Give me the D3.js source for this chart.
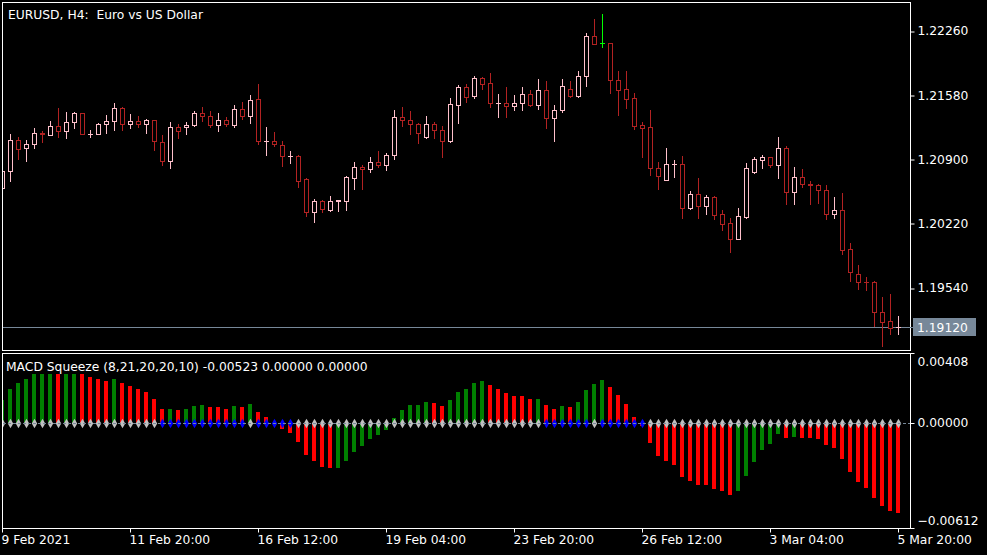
<!DOCTYPE html>
<html lang="en">
<head>
    <meta charset="UTF-8">
    <title>EURUSD, H4</title>
    <script src="https://d3js.org/d3.v7.min.js"></script>
    <style>
        body { margin: 0; background: #000; }
        svg text { font-family: "DejaVu Sans", sans-serif; font-size: 12.3px; fill: #fff; white-space: pre; }
    </style>
</head>
<body>
<div id="chart"></div>
<script>
    // candles, 113 bars of H4
    const opens = [1.20599,1.20779,1.21101,1.21023,1.21059,1.21176,1.21161,1.21250,1.21197,1.21292,
        1.21388,1.21171,1.21171,1.21271,1.21303,1.21441,1.21277,1.21303,1.21271,1.21313,
        1.21080,1.20879,1.21239,1.21239,1.21267,1.21388,1.21356,1.21267,1.21313,1.21267,
        1.21430,1.21362,1.21536,1.21091,1.21091,1.21048,1.20932,1.20932,1.20688,1.20338,
        1.20455,1.20359,1.20455,1.20455,1.20703,1.20816,1.20792,1.20875,1.20839,1.20942,
        1.21345,1.21313,1.21271,1.21133,1.21271,1.21207,1.21091,1.21472,1.21666,1.21568,
        1.21762,1.21706,1.21494,1.21494,1.21462,1.21494,1.21589,1.21479,1.21631,1.21335,
        1.21419,1.21645,1.21571,1.21780,1.22204,1.22130,1.22130,1.21737,1.21642,1.21547,
        1.21260,1.21239,1.20805,1.20684,1.20847,1.20847,1.20387,1.20529,1.20408,1.20500,
        1.20317,1.20222,1.20058,1.20292,1.20766,1.20896,1.20921,1.20843,1.21017,1.20550,
        1.20709,1.20635,1.20624,1.20571,1.20323,1.20359,1.19946,1.19681,1.19603,1.19596,
        1.19278,1.19183,1.19120];
    const highs = [1.20808,1.21168,1.21136,1.21101,1.21232,1.21200,1.21303,1.21444,1.21401,1.21401,
        1.21392,1.21207,1.21282,1.21366,1.21497,1.21454,1.21377,1.21359,1.21330,1.21318,
        1.21154,1.21295,1.21271,1.21295,1.21409,1.21451,1.21409,1.21388,1.21345,1.21472,
        1.21504,1.21578,1.21698,1.21239,1.21186,1.21094,1.20988,1.20949,1.20699,1.20476,
        1.20469,1.20511,1.20466,1.20724,1.20869,1.20837,1.20922,1.20988,1.20967,1.21423,
        1.21454,1.21412,1.21282,1.21359,1.21292,1.21253,1.21550,1.21688,1.21698,1.21783,
        1.21772,1.21815,1.21592,1.21666,1.21582,1.21666,1.21635,1.21751,1.21730,1.21476,
        1.21751,1.21730,1.21836,1.22236,1.22387,1.22440,1.22133,1.21836,1.21836,1.21603,
        1.21295,1.21423,1.20869,1.21020,1.20893,1.20935,1.20564,1.20702,1.20522,1.20511,
        1.20363,1.20278,1.20384,1.20861,1.20922,1.20942,1.20925,1.21136,1.21041,1.20818,
        1.20797,1.20667,1.20640,1.20628,1.20500,1.20543,1.20013,1.19780,1.19652,1.19605,
        1.19440,1.19472,1.19239];
    const lows = [1.20596,1.20670,1.20906,1.20885,1.21023,1.21087,1.21155,1.21136,1.21129,1.21235,
        1.21165,1.21136,1.21165,1.21182,1.21214,1.21214,1.21235,1.21246,1.21182,1.21002,
        1.20843,1.20811,1.21129,1.21171,1.21256,1.21309,1.21246,1.21203,1.21256,1.21246,
        1.21330,1.21288,1.21065,1.20949,1.21038,1.20832,1.20864,1.20603,1.20302,1.20239,
        1.20345,1.20355,1.20355,1.20366,1.20586,1.20586,1.20766,1.20819,1.20788,1.20906,
        1.21256,1.21171,1.21076,1.21128,1.21129,1.20921,1.21080,1.21288,1.21511,1.21547,
        1.21648,1.21451,1.21352,1.21352,1.21419,1.21426,1.21462,1.21436,1.21235,1.21097,
        1.21398,1.21560,1.21565,1.21680,1.22118,1.22094,1.21606,1.21373,1.21447,1.21224,
        1.20928,1.20734,1.20586,1.20680,1.20710,1.20281,1.20376,1.20281,1.20323,1.20270,
        1.20154,1.19921,1.20052,1.20281,1.20753,1.20811,1.20822,1.20703,1.20429,1.20429,
        1.20606,1.20429,1.20440,1.20270,1.20281,1.19899,1.19613,1.19528,1.19518,1.19136,
        1.18924,1.19051,1.19051];
    const closes = [1.20779,1.21101,1.21012,1.21059,1.21176,1.21165,1.21250,1.21197,1.21292,1.21388,
        1.21171,1.21171,1.21271,1.21303,1.21441,1.21271,1.21303,1.21277,1.21313,1.21091,
        1.20879,1.21239,1.21197,1.21267,1.21388,1.21356,1.21267,1.21313,1.21277,1.21430,
        1.21362,1.21529,1.21091,1.21091,1.21059,1.20932,1.20932,1.20673,1.20338,1.20455,
        1.20376,1.20455,1.20465,1.20710,1.20816,1.20792,1.20875,1.20839,1.20946,1.21345,
        1.21313,1.21271,1.21176,1.21271,1.21207,1.21091,1.21483,1.21666,1.21557,1.21762,
        1.21701,1.21494,1.21494,1.21462,1.21494,1.21589,1.21479,1.21631,1.21335,1.21419,
        1.21677,1.21571,1.21783,1.22204,1.22122,1.22130,1.21744,1.21638,1.21542,1.21256,
        1.21235,1.20805,1.20726,1.20847,1.20847,1.20387,1.20529,1.20408,1.20500,1.20313,
        1.20217,1.20058,1.20296,1.20805,1.20900,1.20921,1.20843,1.21017,1.20550,1.20709,
        1.20635,1.20631,1.20571,1.20323,1.20359,1.19942,1.19702,1.19603,1.19600,1.19285,
        1.19179,1.19115,1.19120];
    const markedBar = 75;
    const bidPrice = 1.19120;

    // MACD Squeeze histogram
    const histValues = [0.00132,0.00198,0.00233,0.00256,0.00284,0.00284,0.00285,0.00284,0.00285,0.00286,
        0.00285,0.00268,0.00256,0.00245,0.00256,0.00233,0.00214,0.00198,0.00179,0.00140,
        0.00082,0.00083,0.00074,0.00082,0.00097,0.00105,0.00093,0.00092,0.00082,0.00097,
        0.00093,0.00113,0.00062,0.00035,-0.00003,-0.00035,-0.00058,-0.00113,-0.00187,-0.00223,
        -0.00256,-0.00264,-0.00263,-0.00223,-0.00169,-0.00134,-0.00093,-0.00070,-0.00041,0.00027,
        0.00074,0.00105,0.00106,0.00120,0.00115,0.00097,0.00132,0.00179,0.00198,0.00231,
        0.00245,0.00222,0.00198,0.00175,0.00156,0.00155,0.00140,0.00141,0.00105,0.00082,
        0.00097,0.00096,0.00120,0.00192,0.00226,0.00249,0.00210,0.00161,0.00109,0.00033,
        -0.00019,-0.00118,-0.00194,-0.00223,-0.00247,-0.00317,-0.00340,-0.00363,-0.00364,-0.00383,
        -0.00398,-0.00422,-0.00398,-0.00311,-0.00229,-0.00159,-0.00124,-0.00066,-0.00089,-0.00083,
        -0.00089,-0.00090,-0.00095,-0.00130,-0.00148,-0.00212,-0.00287,-0.00346,-0.00381,-0.00439,
        -0.00486,-0.00515,-0.00523];
    // 1 = green bar, 0 = red bar
    const histUp = [1,1,1,1,1,1,1,0,1,1, 0,0,0,0,1,0,0,0,0,0, 0,1,0,1,1,1,0,0,0,1,
        0,1,0,0,0,0,0,0,0,0, 0,0,1,1,1,1,1,1,1,1, 1,1,1,1,0,0,1,1,1,1,
        1,0,0,0,0,0,0,1,0,0, 1,0,1,1,1,1,0,0,0,0, 0,0,0,0,0,0,0,0,0,0,
        0,0,1,1,1,1,1,1,0,1, 0,0,0,0,0,0,0,0,0,0, 0,0,0];
    // 1 = squeeze on (blue dot), 0 = off (grey dot)
    const squeeze = [0,0,0,0,0,0,0,0,0,0, 0,0,0,0,0,0,0,0,0,0, 1,1,1,1,1,1,1,1,1,1,
        1,0,1,1,1,1,1,0,0,0, 0,0,0,0,0,0,0,0,0,0, 0,0,0,0,0,0,0,0,0,0,
        0,0,0,0,0,0,0,0,1,1, 1,1,1,1,0,1,1,1,1,1, 1,0,0,0,0,0,0,0,0,0,
        0,0,0,0,0,0,0,0,0,0, 0,0,0,0,0,0,0,0,0,0, 0,0,0];
    const macdLabel = "MACD Squeeze (8,21,20,20,10) -0.00523 0.00000 0.00000";

    // axes
    const priceTicks = [1.22260, 1.21580, 1.20900, 1.20220, 1.19540];
    const subTicks = [0.00408, 0.00000, -0.00612];
    const timeTickBars = [0, 16, 32, 48, 64, 80, 96, 112];
    const timeTickLabels = ["9 Feb 2021", "11 Feb 20:00", "16 Feb 12:00", "19 Feb 04:00",
        "23 Feb 20:00", "26 Feb 12:00", "3 Mar 04:00", "5 Mar 20:00"];

    const width = 987, height = 555;
    const left = 2, right = 910;
    const mainTop = 2, mainBottom = 350;
    const subTop = 353, subBottom = 528;

    const bullColor = "#ffc0cb", bearColor = "#b22222", markColor = "#00ff00";
    const gridGrey = "#778899";

    const svg = d3.select("#chart").append("svg")
        .attr("width", width).attr("height", height)
        .style("display", "block").style("background", "#000");

    const x = d3.scaleLinear().domain([0, 112]).range([2, 898]);
    const y = d3.scaleLinear().domain([1.22260, 1.19540]).range([31, 287.6]);
    const ys = d3.scaleLinear().domain([0.00408, -0.00612]).range([subTop, subBottom]);
    const px = v => Math.round(v) + 0.5;

    svg.append("clipPath").attr("id", "clipMain").append("rect")
        .attr("x", left + 1).attr("y", mainTop + 1)
        .attr("width", right - left - 1).attr("height", mainBottom - mainTop - 1);
    svg.append("clipPath").attr("id", "clipSub").append("rect")
        .attr("x", left + 1).attr("y", subTop + 1)
        .attr("width", right - left - 1).attr("height", subBottom - subTop - 1);

    // ---- main window ----
    const main = svg.append("g").attr("clip-path", "url(#clipMain)");

    const bars = d3.range(opens.length).map(i => ({
        i, o: opens[i], h: highs[i], l: lows[i], c: closes[i]
    }));
    const colorOf = d => d.i === markedBar ? markColor : (d.c >= d.o ? bullColor : bearColor);

    // bid line
    main.append("line")
        .attr("x1", left).attr("x2", right)
        .attr("y1", px(y(bidPrice))).attr("y2", px(y(bidPrice)))
        .attr("stroke", gridGrey);

    const candles = main.selectAll("g.candle").data(bars).enter()
        .append("g").attr("class", "candle");

    candles.append("line")
        .attr("x1", d => x(d.i) + 0.5).attr("x2", d => x(d.i) + 0.5)
        .attr("y1", d => Math.round(y(d.h))).attr("y2", d => Math.round(y(d.l)) + 1)
        .attr("stroke", colorOf);

    candles.each(function(d) {
        const g = d3.select(this);
        const top = Math.round(y(Math.max(d.o, d.c)));
        const bot = Math.round(y(Math.min(d.o, d.c)));
        if (bot - top < 1) {
            g.append("line")
                .attr("x1", x(d.i) - 2).attr("x2", x(d.i) + 3)
                .attr("y1", top + 0.5).attr("y2", top + 0.5)
                .attr("stroke", colorOf(d));
        } else {
            g.append("rect")
                .attr("x", x(d.i) - 1.5).attr("y", top + 0.5)
                .attr("width", 4).attr("height", bot - top)
                .attr("fill", "#000").attr("stroke", colorOf(d));
        }
    });

    svg.append("text").attr("x", 8).attr("y", 18.5)
        .text("EURUSD, H4:  Euro vs US Dollar");

    // ---- MACD Squeeze window ----
    const sub = svg.append("g").attr("clip-path", "url(#clipSub)");
    const zeroY = ys(0);

    sub.selectAll("rect.hist").data(histValues).enter()
        .append("rect").attr("class", "hist")
        .attr("x", (d, i) => x(i) - 2)
        .attr("width", 4)
        .attr("y", d => Math.round(d >= 0 ? ys(d) : zeroY))
        .attr("height", d => Math.max(1, Math.round(Math.abs(ys(d) - zeroY))))
        .attr("fill", (d, i) => histUp[i] ? "#008000" : "#ff0000");

    svg.append("line")
        .attr("x1", left + 1).attr("x2", right + 4)
        .attr("y1", px(zeroY)).attr("y2", px(zeroY))
        .attr("stroke", gridGrey).attr("stroke-dasharray", "3,2");

    sub.selectAll("path.dot").data(squeeze).enter()
        .append("path").attr("class", "dot")
        .attr("d", d3.symbol(d3.symbolDiamond, 26))
        .attr("transform", (d, i) => `translate(${x(i) + 0.5},${px(zeroY)})`)
        .attr("fill", d => d ? "#0000ff" : "#c0c0c0");

    svg.append("text").attr("x", 6).attr("y", 371).text(macdLabel);

    // ---- frames and axes ----
    svg.append("rect").attr("x", left + 0.5).attr("y", mainTop + 0.5)
        .attr("width", right - left).attr("height", mainBottom - mainTop)
        .attr("fill", "none").attr("stroke", "#fff");
    svg.append("rect").attr("x", left + 0.5).attr("y", subTop + 0.5)
        .attr("width", right - left).attr("height", subBottom - subTop)
        .attr("fill", "none").attr("stroke", "#fff");

    const priceAxis = svg.append("g")
        .attr("transform", `translate(${right + 0.5},0)`)
        .call(d3.axisRight(y).tickValues(priceTicks).tickSize(4).tickPadding(3)
            .tickFormat(d3.format(".5f")));
    priceAxis.select(".domain").remove();
    priceAxis.selectAll(".tick line").attr("stroke", "#fff")
        .attr("transform", d => `translate(0,${px(y(d)) - y(d)})`);
    priceAxis.selectAll(".tick text").attr("fill", "#fff")
        .style("font-family", "DejaVu Sans").style("font-size", "12.3px");

    // bid label
    const bidY = px(y(bidPrice));
    svg.append("line").attr("x1", right).attr("x2", right + 4)
        .attr("y1", bidY).attr("y2", bidY).attr("stroke", gridGrey);
    svg.append("rect").attr("x", right + 3).attr("y", bidY - 9.5)
        .attr("width", 63).attr("height", 18).attr("fill", gridGrey);
    svg.append("text").attr("x", right + 7).attr("y", bidY + 4.5)
        .text(d3.format(".5f")(bidPrice));

    const subAxis = svg.append("g")
        .attr("transform", `translate(${right + 0.5},0)`)
        .call(d3.axisRight(ys).tickValues(subTicks).tickSize(4).tickPadding(3)
            .tickFormat(d3.format(".5f")));
    subAxis.select(".domain").remove();
    subAxis.selectAll(".tick line").attr("stroke", "#fff");
    subAxis.selectAll(".tick text").attr("fill", "#fff")
        .style("font-family", "DejaVu Sans").style("font-size", "12.3px")
        .attr("dy", d => d === subTicks[0] ? "1.05em" : d === subTicks[2] ? "-0.25em" : "0.32em");

    const timeAxis = svg.append("g")
        .attr("transform", `translate(0,${subBottom + 0.5})`)
        .call(d3.axisBottom(x).tickValues(timeTickBars).tickSize(4).tickPadding(3)
            .tickFormat((d, i) => timeTickLabels[i]));
    timeAxis.select(".domain").remove();
    timeAxis.selectAll(".tick").attr("transform", d => `translate(${x(d) + 0.5},0)`);
    timeAxis.selectAll(".tick line").attr("stroke", "#fff");
    timeAxis.selectAll(".tick text").attr("fill", "#fff")
        .attr("text-anchor", "start").attr("x", -1)
        .style("font-family", "DejaVu Sans").style("font-size", "12.3px");
</script>
</body>
</html>
